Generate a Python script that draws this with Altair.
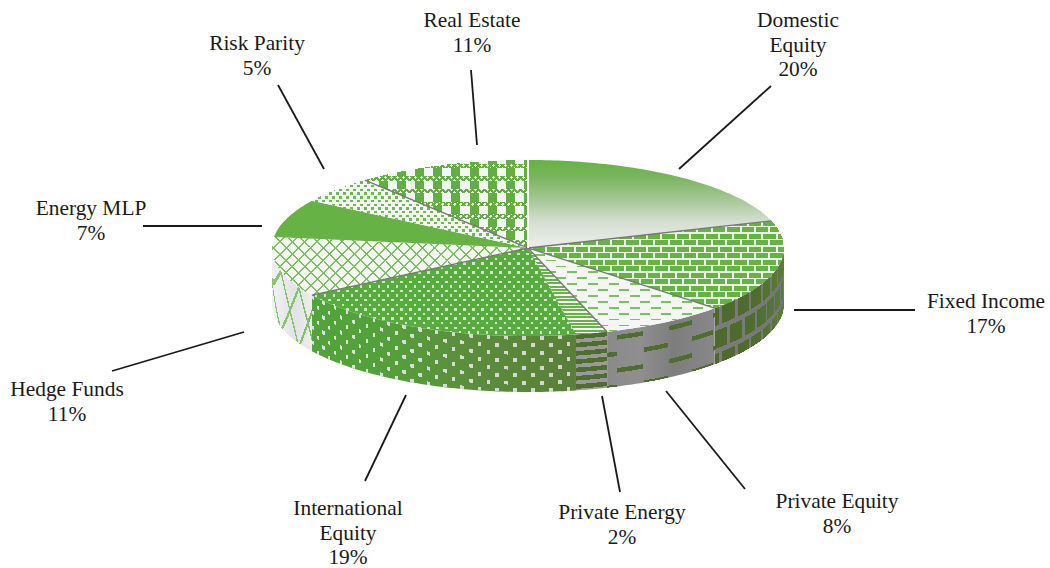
import math
import numpy as np
import altair as alt

# Portfolio allocation, percent per asset class, clockwise from twelve o'clock
CATEGORIES = ["Domestic Equity", "Fixed Income", "Private Equity", "Private Energy",
              "International Equity", "Hedge Funds", "Energy MLP", "Risk Parity", "Real Estate"]
SHARES = [20, 17, 8, 2, 19, 11, 7, 5, 11]

# Wrapped label lines, label centre and leader line for each class
LABEL_LINES = [["Domestic", "Equity"], ["Fixed Income"], ["Private Equity"], ["Private Energy"],
               ["International", "Equity"], ["Hedge Funds"], ["Energy MLP"], ["Risk Parity"], ["Real Estate"]]
LABEL_X = [798, 986, 837, 622, 348, 67, 91, 257, 472]
LABEL_TOP_Y = [21, 302, 502, 513, 509, 390, 209, 44, 21]
LEADERS = [(771, 86, 679, 169), (794, 310, 915, 310), (666, 391, 745, 489), (602, 396, 620, 492),
           (406, 395, 365, 481), (244, 332, 112, 371), (143, 226, 262, 226), (278, 85, 324, 169),
           (471, 70, 477, 145)]

WIDTH, HEIGHT = 1050, 568
CX, CY, RX, RY, DEPTH = 528.0, 248.0, 256.0, 88.0, 56.0
GREEN, PALE = "#66b245", "#f4f6f3"
DARK = "#4f6d2f"

edges = np.concatenate([[0], np.cumsum(SHARES)]) / sum(SHARES) * 2 * math.pi

xs = np.arange(268, 792)
ys = np.arange(155, 398)
X, Y = np.meshgrid(xs + 0.5, ys + 0.5)
NX, NY = (X - CX) / RX, (Y - CY) / RY
TOP_IN = NX ** 2 + NY ** 2 <= 1
TOP_T = np.arctan2(NX, -NY) % (2 * math.pi)
RIM = CY + RY * np.sqrt(np.clip(1 - NX ** 2, 0, 1))
V = Y - RIM
WALL_IN = (np.abs(NX) <= 1) & (V >= 0) & (V <= DEPTH)
WALL_T = math.pi - np.arcsin(np.clip(NX, -1, 1))


def stagger(a, b, pa, pb, wa, wb):
    """Boxes of size wa x wb on a half-offset lattice of period pa x pb."""
    row = np.floor(b / pb)
    return (((a + row * pa / 2) % pa) < wa) & ((b % pb) < wb)


def lattice(a, b, pa, pb, w):
    return (((a / pa + b / pb) % 1) < w) | (((a / pa - b / pb) % 1) < w)


def plaid(x, y):
    band = ((y - 168) % 12.7) >= 8.3
    chain = lattice(np.floor(x), np.floor(y), 6.0, 6.0, 0.4)
    return np.where(band, chain, ((x - 415) % 18.2) < 9.0)


TOP_PATTERNS = [
    None,
    lambda x, y: stagger(x, y, 14.4, 6.5, 12.4, 4.8),
    lambda x, y: stagger(x, y, 21.0, 5.9, 10.0, 1.8),
    lambda x, y: (y % 3.4) < 2.0,
    lambda x, y: stagger(x, y, 9.0, 4.6, 2.4, 2.4),
    lambda x, y: lattice(x, y, 12.4, 12.4, 0.15),
    None,
    lambda x, y: stagger(x, y, 7.0, 3.7, 3.0, 2.4),
    plaid,
]
TOP_FG = [None, GREEN, "#7cc061", "#6ab04c", "#cfe6c4", "#7cc061", None, "#6fb853", "#62ae44"]
TOP_BG = [None, "#eaf1e6", PALE, "#f2f5f0", "#58ab3e", PALE, GREEN, PALE, PALE]

WALL_PATTERNS = {
    1: lambda t, x, v: stagger(t, v, 0.1, 23.0, 0.083, 18.0),
    2: lambda t, x, v: stagger(t - 2.448, v - 4.5, 0.227, 16.5, 0.112, 4.6),
    3: lambda t, x, v: (v % 8.3) < 4.6,
    4: lambda t, x, v: stagger(t, v, 0.07, 7.5, 0.014, 3.8),
    5: lambda t, x, v: lattice(x - 280, v, 18.0, 60.0, 0.1),
}
WALL_FG = {
    1: [(0, "#4d692c"), (0.6, "#4f6d2e"), (1, "#5c7c3a")],
    2: [(0, DARK), (1, DARK)],
    3: [(0, DARK), (1, DARK)],
    4: [(0, "#e0e0e0"), (1, "#d4d4d4")],
    5: [(0, "#8ac672"), (1, "#7fc066")],
}
WALL_BG = {
    1: [(0, "#7c7c7c"), (1, "#767676")],
    2: [(0, "#8a8a8a"), (0.3, "#8f8f8f"), (0.62, "#7d7d7d"), (1, "#888888")],
    3: [(0, "#999999"), (1, "#9a9a9a")],
    4: [(0, "#52a33a"), (0.3, "#53a03a"), (0.55, "#5a903c"), (1, "#5a7f38")],
    5: [(0, "#f0f1f1"), (0.6, "#e2e3e4"), (1, "#eceded")],
}


def horizontal(stops):
    return alt.LinearGradient(
        gradient="linear", x1=0, x2=1, y1=0, y2=0,
        stops=[alt.GradientStop(color=c, offset=o) for o, c in stops],
    )


def shape(coords, name, kind="Polygon"):
    return {"type": "Feature", "properties": {"name": name}, "geometry": {"type": kind, "coordinates": coords}}


def draw(feature, fill):
    return (
        alt.Chart(alt.Data(values=[feature]))
        .mark_geoshape(filled=True, fill=fill, strokeWidth=0)
        .project(type="identity", scale=1, translate=[0, 0])
    )


def box_runs(mask):
    """Merge a boolean pixel mask into rectangles, as MultiPolygon coordinates."""
    rects, active = [], {}
    for r in range(mask.shape[0] + 1):
        row = mask[r] if r < mask.shape[0] else np.zeros(mask.shape[1], bool)
        d = np.diff(np.concatenate([[0], row.astype(np.int8), [0]]))
        current = set(zip(np.where(d == 1)[0].tolist(), np.where(d == -1)[0].tolist()))
        for run in [k for k in active if k not in current]:
            a, b = run
            top, bottom = int(ys[0]) + active.pop(run), int(ys[0]) + r
            left, right = int(xs[0]) + a, int(xs[0]) + b
            rects.append([[[left, top], [right, top], [right, bottom], [left, bottom], [left, top]]])
        for run in current:
            active.setdefault(run, r)
    return rects


def sector(a, b):
    steps = max(3, int((b - a) * 60))
    pts = [[CX, CY]]
    for t in np.linspace(a, b, steps):
        pts.append([round(CX + RX * math.sin(t), 2), round(CY - RY * math.cos(t), 2)])
    pts.append([CX, CY])
    return pts


def wall(a, b):
    a, b = max(a, math.pi / 2), min(b, 3 * math.pi / 2)
    ts = np.linspace(a, b, max(3, int((b - a) * 60)))
    upper = [[round(CX + RX * math.sin(t), 2), round(CY - RY * math.cos(t), 2)] for t in ts]
    lower = [[p[0], round(p[1] + DEPTH, 2)] for p in upper[::-1]]
    return upper + lower + upper[:1]


layers = []

# Side walls, one ground and one texture per class that faces the viewer
for i, name in enumerate(CATEGORIES):
    a, b = edges[i], edges[i + 1]
    if i not in WALL_PATTERNS:
        continue
    layers.append(draw(shape([wall(a, b)], name + " wall"), horizontal(WALL_BG[i])))
    mask = WALL_IN & (WALL_T >= a) & (WALL_T < b) & WALL_PATTERNS[i](WALL_T, X, V)
    layers.append(draw(shape(box_runs(mask), name + " wall texture", "MultiPolygon"), horizontal(WALL_FG[i])))

# Top surface
for i, name in enumerate(CATEGORIES):
    a, b = edges[i], edges[i + 1]
    if i == 0:
        fill = alt.LinearGradient(
            gradient="linear", x1=0, x2=0, y1=0, y2=1,
            stops=[alt.GradientStop(color=GREEN, offset=0),
                   alt.GradientStop(color="#7ab55f", offset=0.2),
                   alt.GradientStop(color="#a5c895", offset=0.45),
                   alt.GradientStop(color="#d5dfd0", offset=0.7),
                   alt.GradientStop(color="#ecefeb", offset=1)],
        )
    else:
        fill = TOP_BG[i]
    layers.append(draw(shape([sector(a, b)], name), fill))
    if TOP_PATTERNS[i] is not None:
        mask = TOP_IN & (TOP_T >= a) & (TOP_T < b) & TOP_PATTERNS[i](X, Y)
        layers.append(draw(shape(box_runs(mask), name + " texture", "MultiPolygon"), TOP_FG[i]))

x_scale = alt.Scale(domain=[0, WIDTH], range=[0, WIDTH])
y_scale = alt.Scale(domain=[0, HEIGHT], range=[0, HEIGHT])


def segments(rows, color, width):
    return (
        alt.Chart(alt.Data(values=rows))
        .mark_rule(color=color, strokeWidth=width)
        .encode(
            x=alt.X("x:Q", scale=x_scale, axis=None),
            y=alt.Y("y:Q", scale=y_scale, axis=None),
            x2="x2:Q",
            y2="y2:Q",
        )
    )


# Seams between neighbouring wedges
rim = lambda t: {"x": CX, "y": CY, "x2": CX + RX * math.sin(t), "y2": CY - RY * math.cos(t)}
layers.append(segments([rim(edges[k]) for k in (1, 2, 3, 5, 8)], "#777777", 1.3))
layers.append(segments([rim(0.0)], "#ffffff", 2))

# Leader lines and labels
layers.append(segments([dict(zip(("x", "y", "x2", "y2"), row)) for row in LEADERS], "#1a1a1a", 1.8))

text_rows = []
for lines, x, y, share in zip(LABEL_LINES, LABEL_X, LABEL_TOP_Y, SHARES):
    for k, line in enumerate(lines + [f"{share}%"]):
        text_rows.append({"x": x, "y": y + k * 24.5, "t": line})
layers.append(
    alt.Chart(alt.Data(values=text_rows))
    .mark_text(font="Liberation Serif", fontSize=21.4, color="#1a1a1a", align="center", baseline="middle")
    .encode(x=alt.X("x:Q", scale=x_scale, axis=None), y=alt.Y("y:Q", scale=y_scale, axis=None), text="t:N")
)

chart = (
    alt.layer(*layers)
    .properties(width=WIDTH, height=HEIGHT, padding=0, autosize=alt.AutoSizeParams(type="none"), background="white")
    .configure_view(stroke=None)
)
chart.save("out.html", embed_options={"renderer": "svg", "actions": False})
